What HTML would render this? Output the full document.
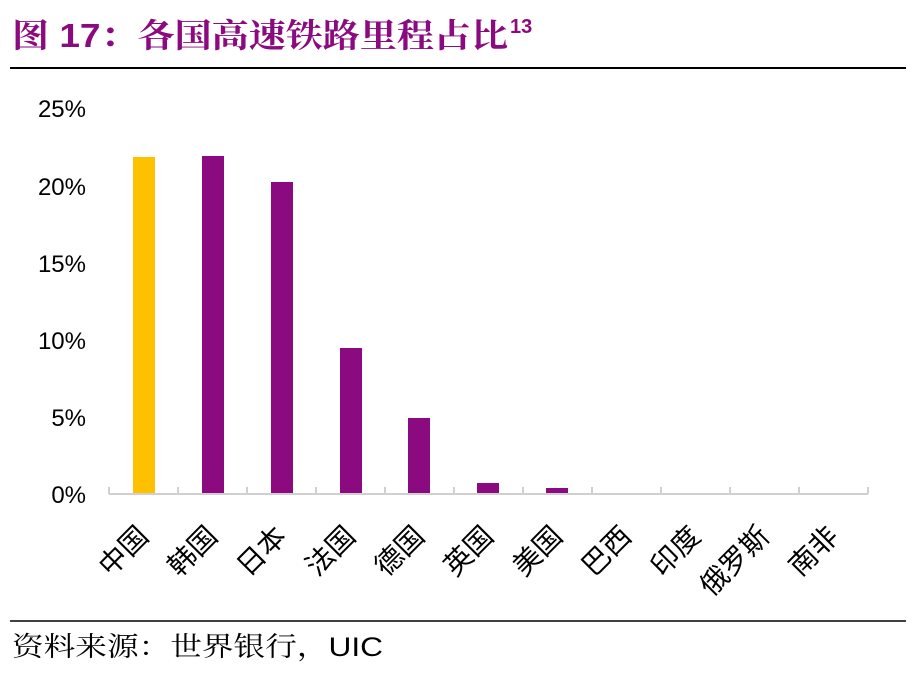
<!DOCTYPE html>
<html><head><meta charset="utf-8"><style>
body{margin:0;background:#fff;width:924px;height:676px;overflow:hidden;font-family:"Liberation Sans","Noto Sans CJK SC",sans-serif}
</style></head><body>
<svg width="924" height="676" viewBox="0 0 924 676" xmlns="http://www.w3.org/2000/svg" style="position:absolute;left:0;top:0">
<text x="12" y="47" font-size="33" font-weight="bold" fill="#8B0A80" font-family="Liberation Sans,Noto Serif CJK SC,sans-serif" textLength="496" lengthAdjust="spacingAndGlyphs">图 17：各国高速铁路里程占比</text>
<text x="510" y="33" font-size="20" font-weight="bold" fill="#8B0A80" font-family="Liberation Sans,sans-serif">13</text>
<line x1="10" y1="68" x2="906" y2="68" stroke="#000" stroke-width="2"/>
<g font-size="24" fill="#000" text-anchor="end" font-family="Liberation Sans,sans-serif">
<text x="86" y="117">25%</text><text x="86" y="195">20%</text><text x="86" y="272">15%</text>
<text x="86" y="349">10%</text><text x="86" y="426">5%</text><text x="86" y="503">0%</text>
</g>
<g>
<rect x="133" y="157" width="22" height="337" fill="#FFC000"/>
<rect x="202" y="156" width="22" height="338" fill="#8B0A80"/>
<rect x="271" y="182" width="22" height="312" fill="#8B0A80"/>
<rect x="340" y="348" width="22" height="146" fill="#8B0A80"/>
<rect x="408" y="418" width="22" height="76" fill="#8B0A80"/>
<rect x="477" y="483" width="22" height="11" fill="#8B0A80"/>
<rect x="546" y="488" width="22" height="6" fill="#8B0A80"/>
</g>
<line x1="109" y1="494" x2="868" y2="494" stroke="#d0d0d0" stroke-width="2"/>
<g stroke="#d0d0d0" stroke-width="2">
<line x1="109" y1="487" x2="109" y2="494"/><line x1="178" y1="487" x2="178" y2="494"/><line x1="247" y1="487" x2="247" y2="494"/><line x1="316" y1="487" x2="316" y2="494"/><line x1="385" y1="487" x2="385" y2="494"/><line x1="454" y1="487" x2="454" y2="494"/><line x1="523" y1="487" x2="523" y2="494"/><line x1="592" y1="487" x2="592" y2="494"/><line x1="661" y1="487" x2="661" y2="494"/><line x1="730" y1="487" x2="730" y2="494"/><line x1="799" y1="487" x2="799" y2="494"/><line x1="868" y1="487" x2="868" y2="494"/>
</g>
<g font-size="28" fill="#000" text-anchor="end" font-family="Noto Sans CJK SC,sans-serif">
<text transform="translate(150,538) rotate(-45)">中国</text>
<text transform="translate(219,538) rotate(-45)">韩国</text>
<text transform="translate(288,538) rotate(-45)">日本</text>
<text transform="translate(357,538) rotate(-45)">法国</text>
<text transform="translate(426,538) rotate(-45)">德国</text>
<text transform="translate(495,538) rotate(-45)">英国</text>
<text transform="translate(564,538) rotate(-45)">美国</text>
<text transform="translate(633,538) rotate(-45)">巴西</text>
<text transform="translate(702,538) rotate(-45)">印度</text>
<text transform="translate(771,538) rotate(-45)">俄罗斯</text>
<text transform="translate(840,538) rotate(-45)">南非</text>
</g>
<line x1="10" y1="621" x2="906" y2="621" stroke="#000" stroke-width="1.5"/>
<text x="12" y="656" font-size="27" fill="#000" font-family="Liberation Sans,Noto Serif CJK SC,sans-serif" textLength="371" lengthAdjust="spacingAndGlyphs">资料来源：世界银行，UIC</text>
</svg>
</body></html>
